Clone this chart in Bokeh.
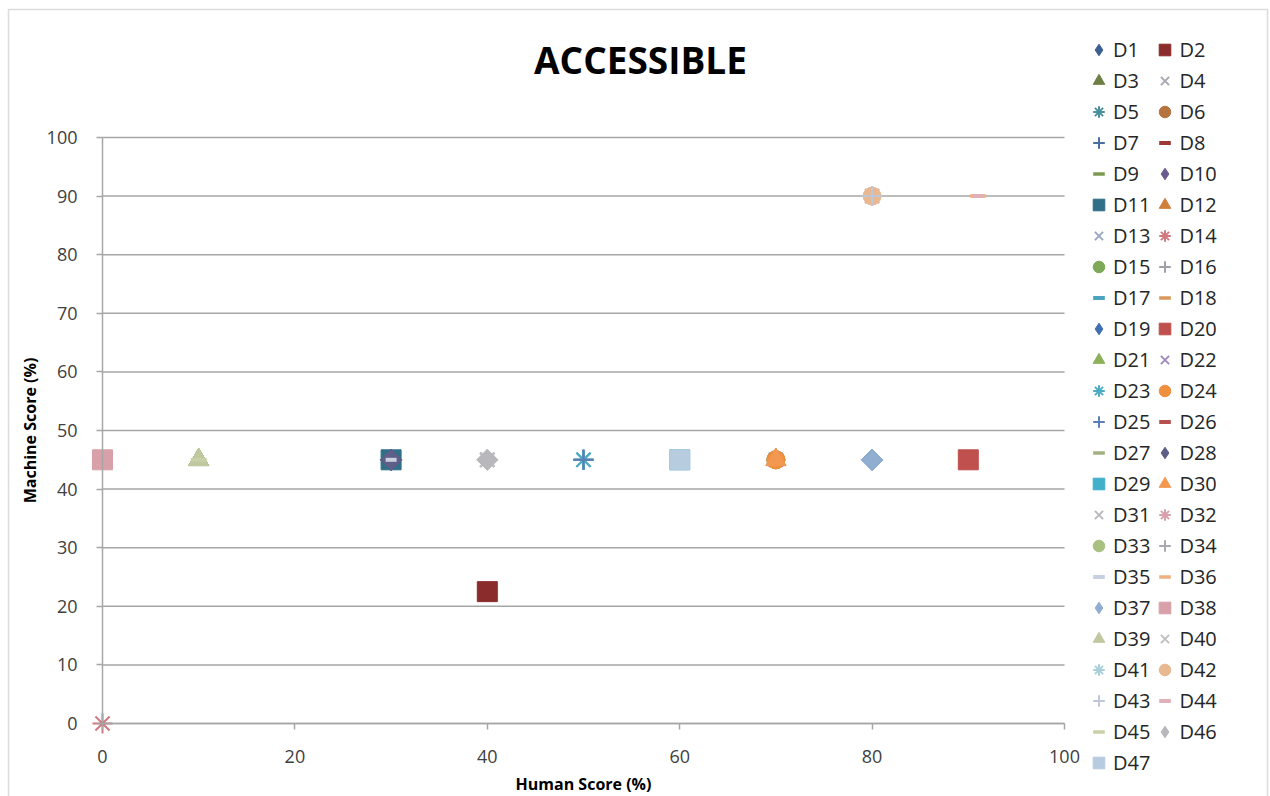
import math

from bokeh.plotting import figure
from bokeh.models import (Legend, LegendItem, Range1d, FixedTicker, LinearAxis,
                          Label, BoxAnnotation)
from bokeh.embed import file_html
from bokeh.resources import INLINE

# Series names (D1..D47)
series = ["D%d" % i for i in range(1, 48)]

# Human score (%) for each series
human = [30, 40, 10, 40, 50, 70, 50, 30, 30, 30,
         30, 70, 40, 0, 70, 40, 30, 80, 80, 90,
         10, 70, 50, 70, 50, 91, 30, 30, 60, 70,
         40, 80, 0, 80, 30, 91, 80, 0, 10, 40,
         60, 80, 80, 91, 10, 40, 60]

# Machine score (%) for each series
machine = [45, 22.5, 45, 45, 45, 45, 45, 45, 45, 45,
           45, 45, 45, 0, 45, 45, 45, 90, 45, 45,
           45, 45, 45, 45, 45, 90, 45, 45, 45, 45,
           45, 90, 45, 90, 45, 90, 45, 45, 45, 45,
           45, 90, 90, 90, 45, 45, 45]

# Axis ticks
x_ticks = [0, 20, 40, 60, 80, 100]
y_ticks = [0, 10, 20, 30, 40, 50, 60, 70, 80, 90, 100]

# Marker cycle: diamond, square, triangle, x, star, circle, plus, short dash, long dash
marker_cycle = ["diamond", "square", "triangle", "x", "asterisk",
                "circle", "cross", "sdash", "ldash"]

colors = ["#3A5F8F", "#8B2C2C", "#6E7F45", "#A8A8B0", "#4A8FA0", "#B5743E",
          "#4A6F9F", "#A03535", "#7D9950", "#6A5A90", "#2F6F88", "#D07F3A",
          "#9AA8C0", "#D07A80", "#7FA858", "#A0A0A8", "#4AA3C0", "#D9985A",
          "#3E6FAF", "#C0504D", "#8DB05A", "#9E8EC0", "#4BACC6", "#F0903F",
          "#5B7FB5", "#B8504D", "#A0B080", "#5E5E88", "#40B0CB", "#F39850",
          "#B8B8C0", "#D8A0A8", "#A8C080", "#A8A8B0", "#C8D0E0", "#F0B080",
          "#90AED0", "#D8A0A8", "#C0C8A0", "#C0C0C4", "#A8D0D8", "#E8B890",
          "#C0C8D8", "#E0B0B8", "#C8D0A8", "#B8B8BC", "#B8CCE0"]

FONT = "Open Sans"
W, H = 1270, 796
# Pixel placement of the plotting area inside the canvas
LEFT_PX, RIGHT_PX, TOP_PX, BOTTOM_PX = 102, 1064, 137, 723
kx = (RIGHT_PX - LEFT_PX) / 100.0
ky = (BOTTOM_PX - TOP_PX) / 100.0


def px_x(px):
    return (px - LEFT_PX) / kx


def px_y(py):
    return (BOTTOM_PX - py) / ky


p = figure(width=W, height=H, output_backend="svg", toolbar_location=None,
           x_range=Range1d(px_x(0), px_x(W)), y_range=Range1d(px_y(H), px_y(0)),
           x_axis_location=None, y_axis_location=None,
           min_border=0, min_border_left=0, min_border_right=0,
           min_border_top=0, min_border_bottom=0)
p.outline_line_color = None
p.background_fill_color = "white"
p.border_fill_color = "white"
p.xgrid.visible = False
p.ygrid.visible = False

# outer chart border
p.add_layout(BoxAnnotation(left=px_x(8), right=px_x(1267), top=px_y(9), bottom=px_y(805),
                           fill_alpha=0, line_color="#8C8C8C", line_width=1.5))

# horizontal gridlines across the value range
p.segment(x0=[x_ticks[0]] * len(y_ticks), x1=[x_ticks[-1]] * len(y_ticks),
          y0=y_ticks, y1=y_ticks, line_color="#A6A6A6", line_width=1.5)

xaxis = LinearAxis(fixed_location=0, bounds=(0, 100), ticker=FixedTicker(ticks=x_ticks))
yaxis = LinearAxis(fixed_location=0, bounds=(0, 100), ticker=FixedTicker(ticks=y_ticks))
for ax in (xaxis, yaxis):
    ax.axis_line_color = "#A6A6A6"
    ax.axis_line_width = 1.5
    ax.major_tick_line_color = "#A6A6A6"
    ax.major_tick_line_width = 1.5
    ax.major_tick_out = 6
    ax.major_tick_in = 0
    ax.minor_tick_line_color = None
    ax.major_label_text_font = FONT
    ax.major_label_text_font_size = "18px"
    ax.major_label_text_color = "#404040"
    ax.axis_label_text_font = FONT
    ax.axis_label_text_font_size = "16px"
    ax.axis_label_text_font_style = "bold"
    ax.axis_label_text_color = "#000000"
xaxis.axis_label = "Human Score (%)"
yaxis.axis_label = "Machine Score (%)"
xaxis.major_label_standoff = 20
yaxis.major_label_standoff = 19
xaxis.axis_label_standoff = 7
yaxis.axis_label_standoff = 3
p.add_layout(xaxis, "below")
p.add_layout(yaxis, "left")

p.add_layout(Label(x=640, y=H - 59, x_units="screen", y_units="screen",
                   text="ACCESSIBLE", text_font=FONT, text_font_size="37px",
                   text_font_style="bold", text_color="#000000",
                   text_align="center", text_baseline="middle"))

legend_renderers = []
for i, name in enumerate(series):
    m = marker_cycle[i % len(marker_cycle)]
    c = colors[i]
    x = [human[i]]
    y = [machine[i]]
    if m in ("sdash", "ldash"):
        r = p.scatter(x, y, marker="dash", size=11 if m == "sdash" else 16,
                      line_color=c, line_width=4 if m == "sdash" else 3.5)
    elif m in ("x", "asterisk", "cross"):
        r = p.scatter(x, y, marker=m, size=20, line_color=c, line_width=2)
    elif m == "diamond":
        # a square turned by 45 degrees gives an evenly proportioned diamond;
        # the legend swatch uses the plain diamond marker (legend ignores angle)
        p.scatter(x, y, marker="square", angle=math.pi / 4, size=15,
                  fill_color=c, line_color=c)
        r = p.scatter([math.nan], [math.nan], marker="diamond", size=15,
                      fill_color=c, line_color=c)
    elif m == "circle":
        r = p.scatter(x, y, marker=m, size=18, fill_color=c, line_color=c)
    else:
        r = p.scatter(x, y, marker=m, size=20, fill_color=c, line_color=c)
    legend_renderers.append(r)

# two-column legend, read across rows: D1 D2 / D3 D4 / ...
order = list(range(0, 47, 2)) + list(range(1, 47, 2))
items = [LegendItem(label=series[i], renderers=[legend_renderers[i]]) for i in order]
legend = Legend(items=items, nrows=24, location=(1084, 18),
                label_text_font=FONT, label_text_font_size="20px",
                label_text_color="#262626",
                glyph_width=29, glyph_height=31, label_height=31,
                label_standoff=0, spacing=0, padding=0, margin=0,
                border_line_color=None, background_fill_alpha=0)
p.add_layout(legend, "center")

open("out.html", "w").write(file_html(p, INLINE))
